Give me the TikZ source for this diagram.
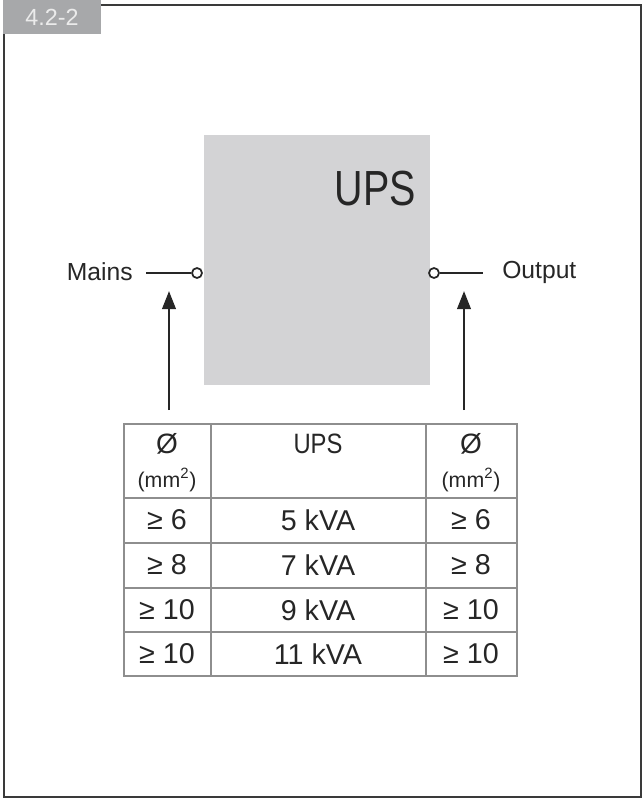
\documentclass[tikz,border=0pt]{standalone}
\usepackage{graphicx}
\usepackage{fontspec}
\setmainfont{Liberation Sans}
\usetikzlibrary{arrows.meta,positioning}
\definecolor{upsgray}{HTML}{D3D3D5}
\definecolor{taggray}{HTML}{A7A8AA}
\definecolor{gridgray}{HTML}{8E8E8E}
\definecolor{framegray}{HTML}{3A3A3A}
\begin{document}
\begin{tikzpicture}[x=0.75pt,y=-0.75pt,
    frameline/.style={draw=framegray, line width=1.4pt},
    upsbox/.style={fill=upsgray, inner sep=0pt, minimum width=169.5pt, minimum height=187.5pt},
    wire/.style={line width=1.5pt, black!85},
    terminal/.style={circle, draw=black!85, line width=1.3pt, fill=white, inner sep=0pt, minimum size=7.5pt},
    feed/.style={line width=2pt, black!85, -{Triangle[length=13.5pt,width=10pt]}},
    grid/.style={draw=gridgray, line width=1.1pt},
    cell/.style={font=\fontsize{21.5}{24}\selectfont, text=black!85, inner sep=0pt},
    head/.style={font=\fontsize{21}{24}\selectfont, text=black!85, inner sep=0pt},
    unit/.style={font=\fontsize{16}{18}\selectfont, text=black!85, inner sep=0pt},
    label/.style={font=\fontsize{18.5}{20}\selectfont, text=black!85, inner sep=0pt}]
    \useasboundingbox (0,0) rectangle (643,799);

    % Frame and tag
    \draw[frameline] (101,5) -- (641,5) -- (641,797) -- (4,797) -- (4,34);
    \node[fill=taggray, minimum width=73.5pt, minimum height=25.5pt, inner sep=0pt,
          text=white!92!black, font=\fontsize{17.5}{18}\selectfont] (tag) at (52,17) {4.2-2};

    % UPS block
    \node[upsbox] (ups) at (317,260) {};
    \node[anchor=north east, inner sep=0pt, font=\fontsize{37}{40}\selectfont, text=black!85]
        (upsname) at (416,171) {\scalebox{0.8}[1]{UPS}};

    % Terminals
    \node[terminal] (inT) at (197,273) {};
    \node[terminal] (outT) at (434,273) {};
    \coordinate (inW) at (146,273);
    \coordinate (outW) at (483,273);
    \draw[wire] (inW) -- (inT);
    \draw[wire] (outT) -- (outW);
    \node[label, anchor=east] (mains) at (133,272) {Mains};
    \node[label, anchor=west] (output) at (502,272) {Output};

    % Feed arrows
    \coordinate (inA) at (169,410);
    \coordinate (inB) at (169,291);
    \coordinate (outA) at (464,410);
    \coordinate (outB) at (464,291);
    \draw[feed] (inA) -- (inB);
    \draw[feed] (outA) -- (outB);

    % Table grid
    \draw[grid] (124,424) rectangle (517,676);
    \draw[grid] (211,424) -- (211,676);
    \draw[grid] (426,424) -- (426,676);
    \foreach \y in {498,543,588,632}
        \draw[grid] (124,\y) -- (517,\y);

    % Table header
    \node[head] (hin) at (167,444) {Ø};
    \node[unit] (hinu) at (167,480) {(mm\textsuperscript{2})};
    \node[head] (hups) at (318,444) {\scalebox{0.85}[1]{UPS}};
    \node[head] (hout) at (471,444) {Ø};
    \node[unit] (houtu) at (471,480) {(mm\textsuperscript{2})};

    % Table rows
    \foreach \r/\y/\d/\k in {1/520/6/5, 2/565/8/7, 3/610/10/9, 4/654/10/11}{
        \node[cell] (in\r) at (167,\y) {≥ \d};
        \node[cell] (kva\r) at (318,\y) {\k\ kVA};
        \node[cell] (out\r) at (471,\y) {≥ \d};
    }
\end{tikzpicture}
\end{document}
